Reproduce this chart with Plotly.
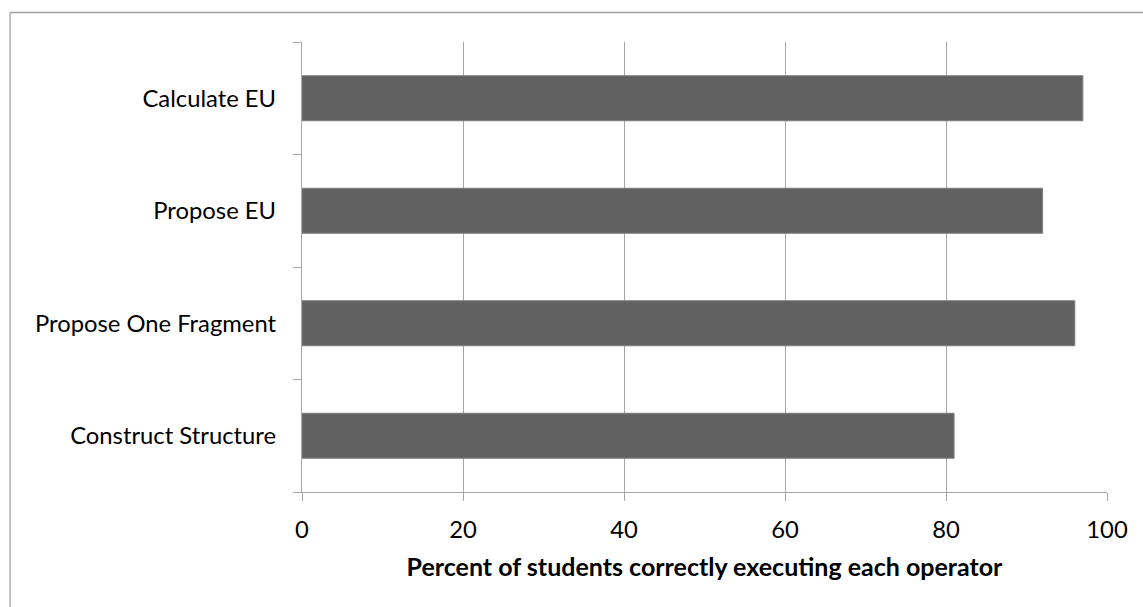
import plotly.graph_objects as go

# Operators (listed bottom to top) and the share of students executing each one correctly
operators = ["Construct Structure", "Propose One Fragment", "Propose EU", "Calculate EU"]
percent_correct = [81, 96, 92, 97]
x_ticks = [0, 20, 40, 60, 80, 100]

FONT = "Lato"
GRID = "#a6a6a6"
LABEL_SIZE = 23.8

fig = go.Figure(
    go.Bar(
        x=percent_correct,
        y=operators,
        orientation="h",
        marker=dict(color="#616161", line=dict(color="#7d7d7d", width=1)),
        hoverinfo="x+y",
    )
)

fig.update_layout(
    width=1143,
    height=607,
    margin=dict(l=302, r=36, t=42, b=115),
    paper_bgcolor="white",
    plot_bgcolor="white",
    bargap=0.6,
    showlegend=False,
    font=dict(family=FONT, size=LABEL_SIZE, color="black"),
    shapes=[
        # chart frame (left and top edges fall inside the page)
        dict(type="line", xref="paper", yref="paper",
             x0=-0.3627, x1=2.0, y0=1.0656, y1=1.0656,
             line=dict(color="#a0a0a0", width=1.3)),
        dict(type="line", xref="paper", yref="paper",
             x0=-0.3627, x1=-0.3627, y0=-1.0, y1=1.0656,
             line=dict(color="#a0a0a0", width=1.3)),
    ],
)

fig.update_xaxes(
    range=[0, 100],
    tickvals=x_ticks,
    ticktext=[str(v) for v in x_ticks],
    showgrid=True,
    gridcolor=GRID,
    gridwidth=1,
    zeroline=False,
    showline=True,
    linecolor=GRID,
    linewidth=1.3,
    ticks="outside",
    ticklen=8,
    tickcolor=GRID,
    tickwidth=1.3,
    ticklabelstandoff=8,
    tickfont=dict(family=FONT, size=LABEL_SIZE, color="black"),
    title=dict(
        text="<b>Percent of students correctly executing each operator</b>",
        font=dict(family=FONT, size=25, color="black"),
        standoff=16,
    ),
)

fig.update_yaxes(
    type="category",
    categoryorder="array",
    categoryarray=operators,
    tickson="boundaries",
    showgrid=False,
    showline=True,
    linecolor=GRID,
    linewidth=1.3,
    ticks="outside",
    ticklen=8,
    tickcolor=GRID,
    tickwidth=1.3,
    ticklabelstandoff=20,
    tickfont=dict(family=FONT, size=LABEL_SIZE, color="black"),
)

fig.write_html("out.html")
